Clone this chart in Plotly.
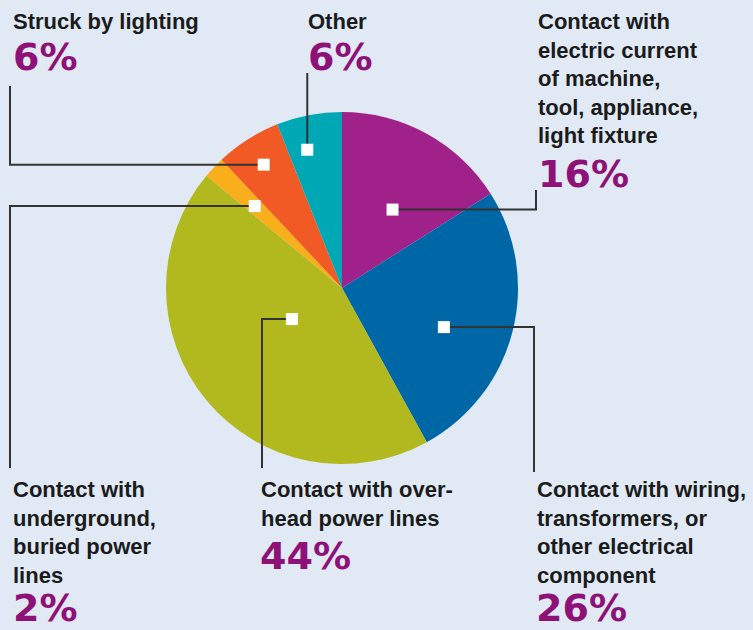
import math
import plotly.graph_objects as go

# Data
categories = [
    "Contact with electric current of machine, tool, appliance, light fixture",
    "Contact with wiring, transformers, or other electrical component",
    "Contact with overhead power lines",
    "Contact with underground, buried power lines",
    "Struck by lighting",
    "Other",
]
values = [16, 26, 44, 2, 6, 6]
label_text = [
    "Contact with<br>electric current<br>of machine,<br>tool, appliance,<br>light fixture",
    "Contact with wiring,<br>transformers, or<br>other electrical<br>component",
    "Contact with over-<br>head power lines",
    "Contact with<br>underground,<br>buried power<br>lines",
    "Struck by lighting",
    "Other",
]
colors = ["#a1218b", "#0067a6", "#b1b91f", "#f9ae1c", "#f15a24", "#00a8b5"]

W, H = 753, 630
CX, CY, R = 342, 288, 176
BG = "#e0e9f4"
PCT_COLOR = "#8e1177"
LINE_COLOR = "#333333"

# callout styling: marker angle nudge (deg), marker radius fraction,
# leader route end, label top-left, percent top-left (all in pixels)
nudge = [4, 6.6, 7.8, 0, 0, -3.3]
rfrac = [0.53, 0.62, 0.335, 0.68, 0.83, 0.81]
routes = [(536, 190), (534, 472), (262, 468), (10, 468), (10, 86), (None, 73)]
label_pos = [(536, 7), (535, 475), (259, 475), (11, 475), (11, 7), (306, 7)]
pct_pos = [(536, 150), (534, 584), (258, 532), (11, 584), (11, 33), (306, 33)]


def px(x, y):
    return x / W, 1 - y / H


fig = go.Figure(go.Pie(
    labels=categories,
    values=values,
    sort=False,
    direction="clockwise",
    rotation=0,
    marker=dict(colors=colors, line=dict(width=0)),
    textinfo="none",
    hoverinfo="label+percent",
    showlegend=False,
    domain=dict(x=[(CX - R) / W, (CX + R) / W], y=[1 - (CY + R) / H, 1 - (CY - R) / H]),
))

total = sum(values)
shapes = []
annotations = []
cum = 0
for i, v in enumerate(values):
    mid = (cum + v / 2) / total * 360 + nudge[i]
    cum += v
    r = R * rfrac[i]
    mx = CX + r * math.sin(math.radians(mid))
    my = CY - r * math.cos(math.radians(mid))

    # elbow leader line from the slice marker out to its label
    ex, ey = routes[i]
    pts = [(mx, my)]
    if ex is not None:
        pts.append((ex, my))
        pts.append((ex, ey))
    else:
        pts.append((mx, ey))
    path = "M " + " L ".join("%f,%f" % px(x, y) for x, y in pts)
    shapes.append(dict(type="path", xref="paper", yref="paper", path=path,
                       line=dict(color=LINE_COLOR, width=2), layer="above"))

    x0, y0 = px(mx - 6, my + 6)
    x1, y1 = px(mx + 6, my - 6)
    shapes.append(dict(type="rect", xref="paper", yref="paper", x0=x0, y0=y0, x1=x1, y1=y1,
                       fillcolor="white", line=dict(width=0), layer="above"))

    lx, ly = px(*label_pos[i])
    annotations.append(dict(
        text="<b>" + label_text[i] + "</b>", x=lx, y=ly, xref="paper", yref="paper",
        xanchor="left", yanchor="top", align="left", showarrow=False,
        font=dict(family="Liberation Sans, Arial", size=22, color="#1b1b1b"),
    ))
    qx, qy = px(*pct_pos[i])
    annotations.append(dict(
        text="<b>%d%%</b>" % v, x=qx, y=qy, xref="paper", yref="paper",
        xanchor="left", yanchor="top", align="left", showarrow=False,
        font=dict(family="DejaVu Sans", size=38, color=PCT_COLOR),
    ))

fig.update_layout(
    width=W, height=H,
    margin=dict(l=0, r=0, t=0, b=0),
    paper_bgcolor=BG,
    plot_bgcolor=BG,
    shapes=shapes,
    annotations=annotations,
)

# drop the page's default body margin so the figure fills the window
fig.write_html("out.html", config={"displayModeBar": False},
               post_script="document.body.style.margin = '0';")
